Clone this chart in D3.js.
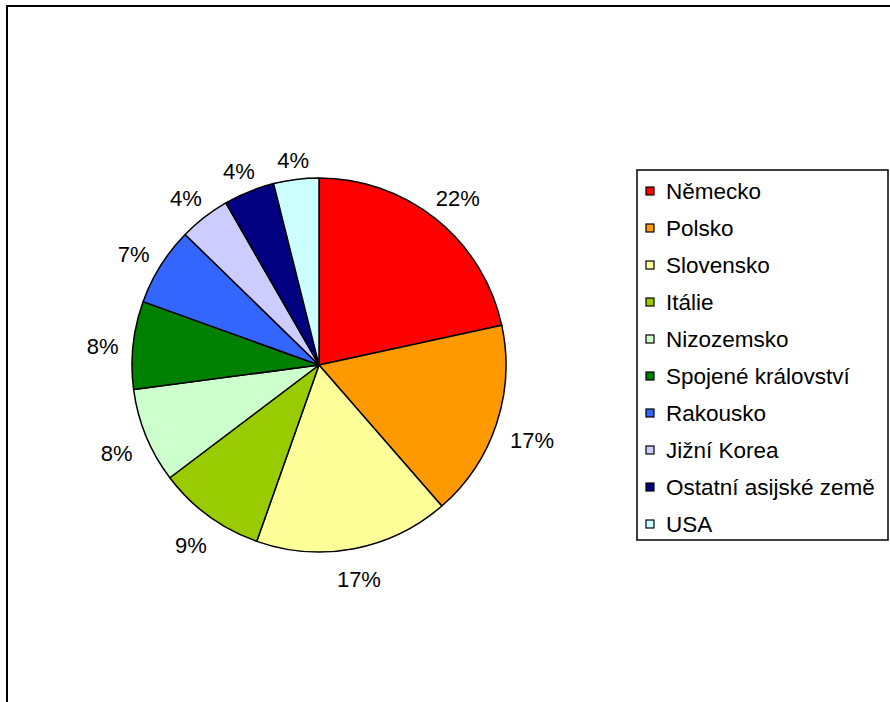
<!DOCTYPE html>
<html>
<head>
<meta charset="utf-8">
<title>Pie</title>
<style>
body { margin: 0; overflow: hidden; background: #fff; }
text { font-family: "Liberation Sans", Arial, sans-serif; fill: #000; }
.pct { font-size: 22px; }
.legend text { font-size: 22.5px; }
</style>
<script src="https://cdnjs.cloudflare.com/ajax/libs/d3/7.8.5/d3.min.js"></script>
</head>
<body>
<svg width="890" height="702"></svg>
<script>
// data (percent shares)
const countries = ['Německo', 'Polsko', 'Slovensko', 'Itálie', 'Nizozemsko',
  'Spojené království', 'Rakousko', 'Jižní Korea', 'Ostatní asijské země', 'USA'];
const shares = [21.6, 17.0, 16.8, 9.3, 8.2, 7.6, 6.8, 4.4, 4.4, 3.9];
const colors = ['#FF0000', '#FF9900', '#FFFF99', '#99CC00', '#CCFFCC',
  '#008000', '#3366FF', '#CCCCFF', '#000080', '#CCFFFF'];

const data = countries.map((c, i) => ({ name: c, value: shares[i] }));

const svg = d3.select('svg');

// outer frame (runs off the right and bottom)
svg.append('rect')
  .attr('x', 7).attr('y', 6)
  .attr('width', 900).attr('height', 720)
  .attr('fill', 'none')
  .attr('stroke', '#000')
  .attr('stroke-width', 2);

const cx = 319, cy = 365, radius = 187;
const color = d3.scaleOrdinal().domain(countries).range(colors);
const total = d3.sum(shares);
const fmt = d3.format('.0f');

const pie = d3.pie().value(d => d.value).sort(null);
const arc = d3.arc().innerRadius(0).outerRadius(radius);

const g = svg.append('g').attr('transform', `translate(${cx},${cy})`);
const arcs = pie(data);

g.selectAll('path').data(arcs)
  .enter().append('path')
    .attr('d', arc)
    .attr('fill', d => color(d.data.name))
    .attr('stroke', '#000')
    .attr('stroke-width', 1.5)
    .attr('stroke-linejoin', 'round');

// labels sit just outside the rim, box edge ~14px away
const gap = 14, halfH = 8;
g.selectAll('text.pct').data(arcs)
  .enter().append('text')
    .attr('class', 'pct')
    .attr('text-anchor', 'middle')
    .attr('dy', '0.35em')
    .text(d => fmt(d.data.value / total * 100) + '%')
    .attr('transform', function(d) {
      const a = (d.startAngle + d.endAngle) / 2;
      const s = Math.sin(a), c = Math.cos(a);
      const w = this.getComputedTextLength();
      const rr = radius + gap + Math.abs(s) * w / 2 + Math.abs(c) * halfH;
      return `translate(${rr * s},${-rr * c + 5})`;
    });

// legend
const legendBox = svg.append('g').attr('class', 'legend');
legendBox.append('rect')
  .attr('x', 637).attr('y', 170)
  .attr('width', 251).attr('height', 370)
  .attr('fill', '#fff')
  .attr('stroke', '#000')
  .attr('stroke-width', 1.5);

const rowY = d3.scalePoint().domain(countries).range([191, 524]);

const item = legendBox.selectAll('g.item').data(countries)
  .enter().append('g')
    .attr('class', 'item')
    .attr('transform', d => `translate(0,${rowY(d)})`);

item.append('rect')
  .attr('x', 646).attr('y', -4)
  .attr('width', 8).attr('height', 8)
  .attr('fill', d => color(d))
  .attr('stroke', '#000')
  .attr('stroke-width', 1.2);

item.append('text')
  .attr('x', 666)
  .attr('dy', '0.35em')
  .text(d => d);
</script>
</body>
</html>
